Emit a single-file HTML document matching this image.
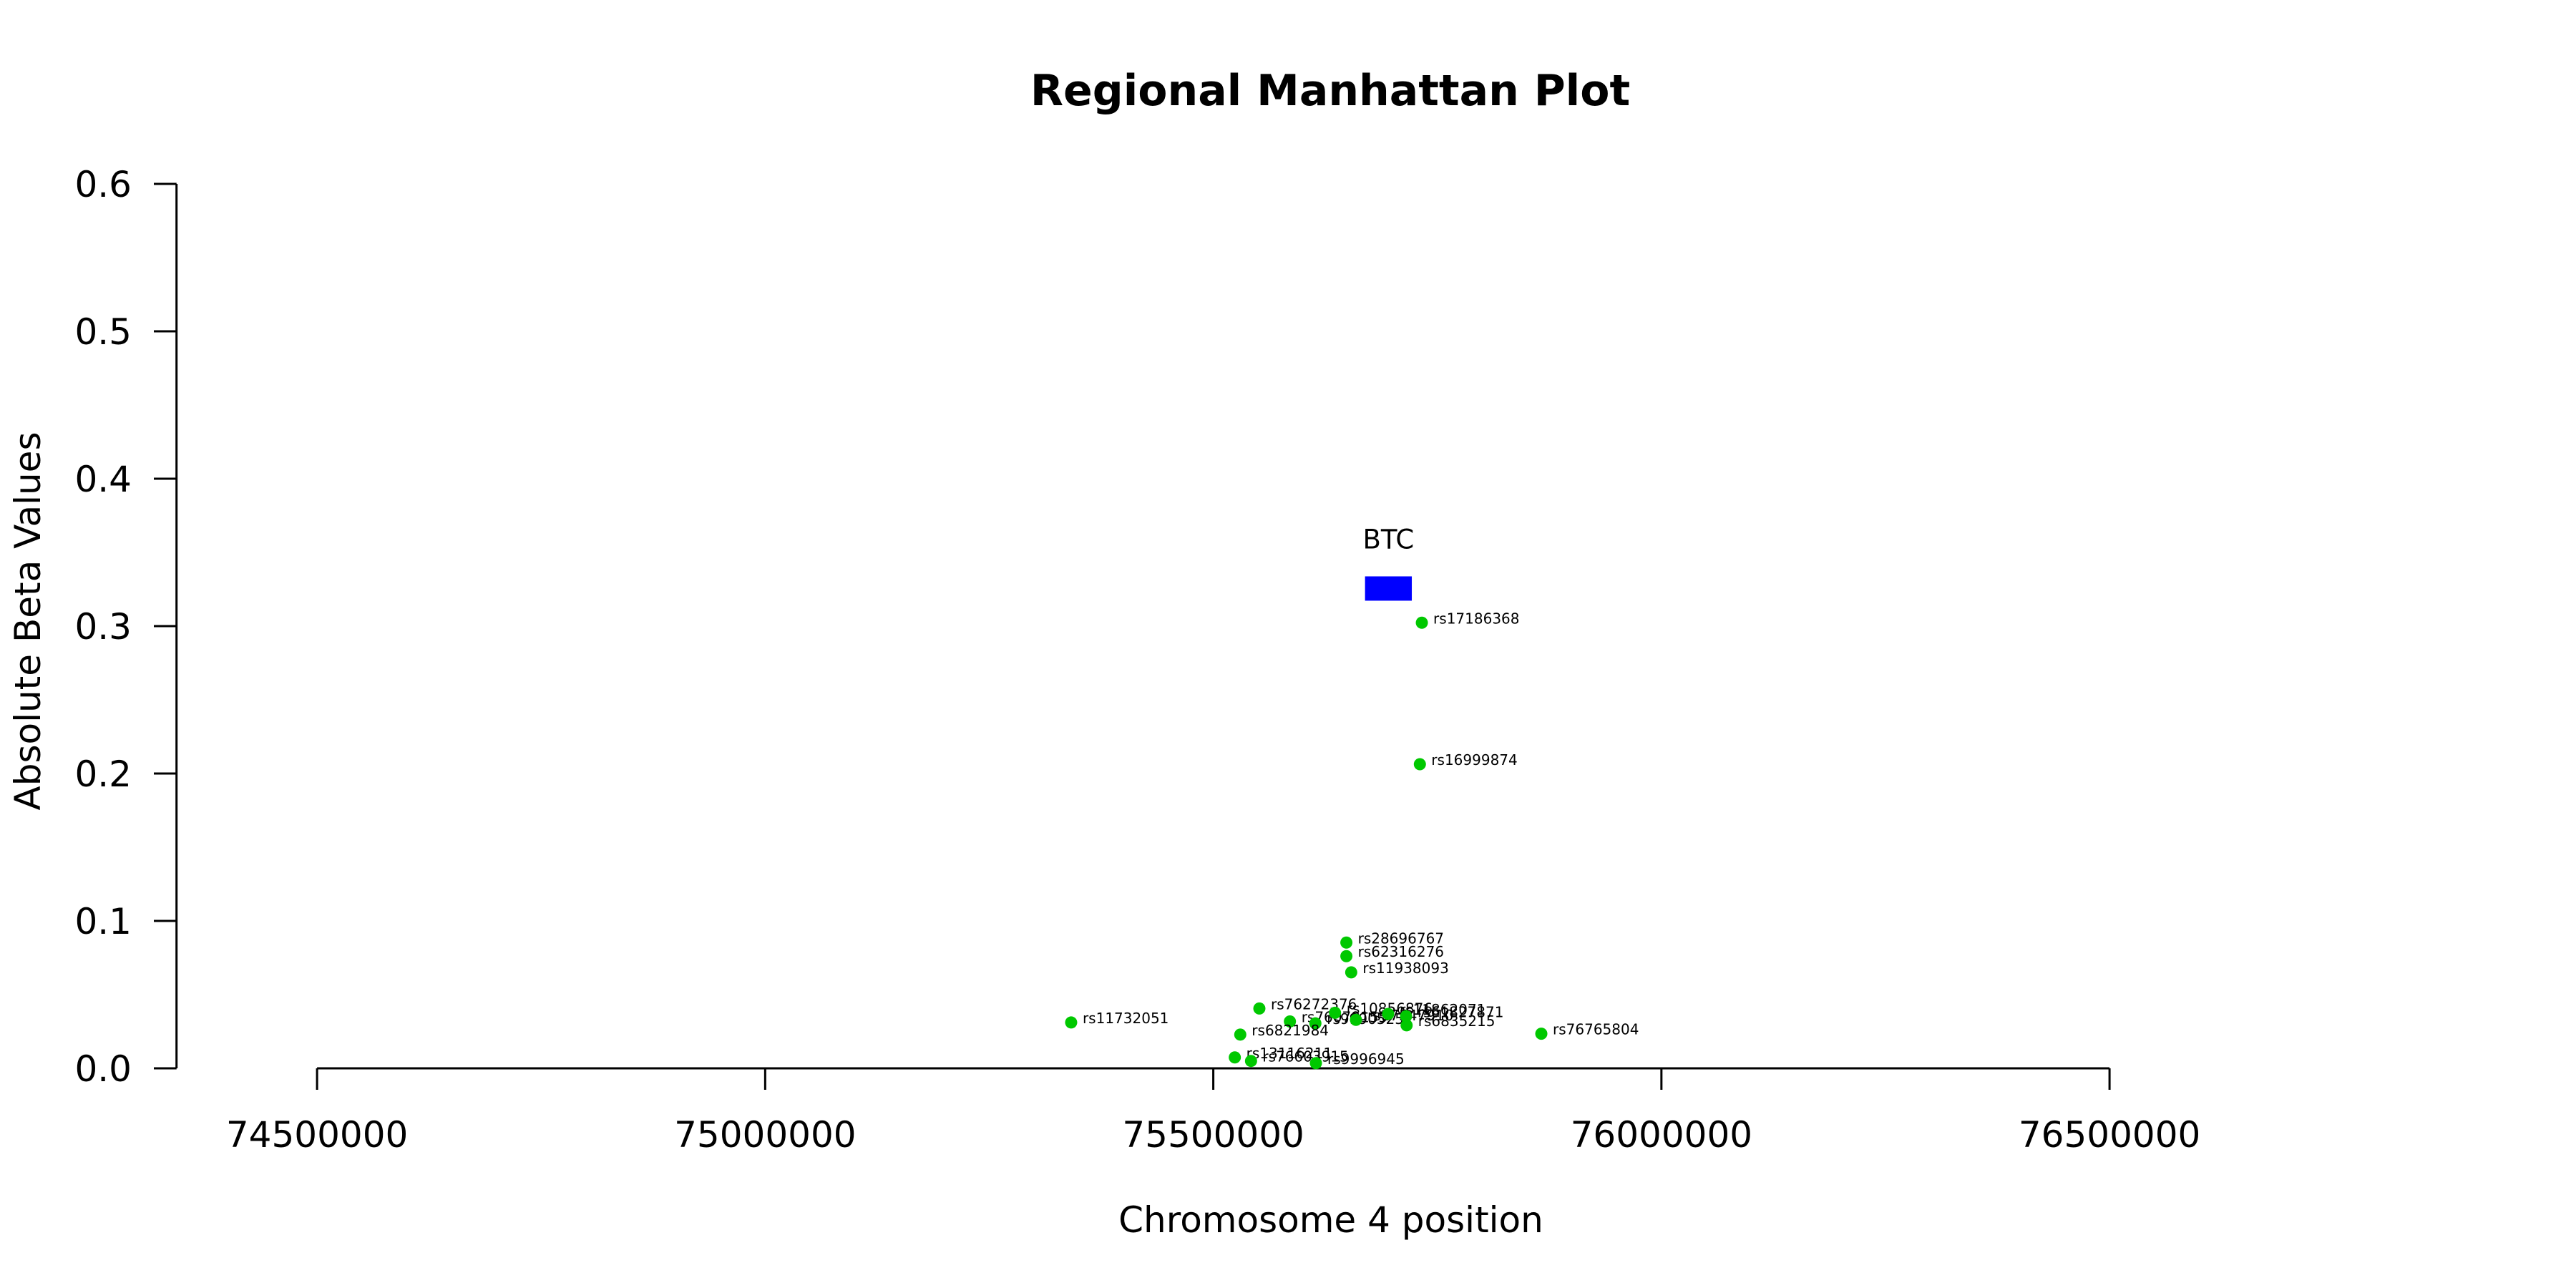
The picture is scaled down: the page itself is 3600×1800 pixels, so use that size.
<!DOCTYPE html>
<html><head><meta charset="utf-8"><style>
html,body{margin:0;padding:0;background:#fff}
svg{display:block;font-family:"DejaVu Sans","Liberation Sans",sans-serif}
</style></head><body>
<svg id="chart" width="3600" height="1800" viewBox="0 0 3600 1800">
<rect width="3600" height="1800" fill="#fff"/>
<text x="1859" y="147" text-anchor="middle" font-size="60" font-weight="bold">Regional Manhattan Plot</text>
<text x="1860" y="1722" text-anchor="middle" font-size="50">Chromosome 4 position</text>
<text transform="translate(56,868) rotate(-90)" text-anchor="middle" font-size="50">Absolute Beta Values</text>
<g id="axes"></g>
<g id="gene"></g>
<g id="points"></g>
</svg>
<script>
const xTicks=[74500000,75000000,75500000,76000000,76500000];
const yTicks=[0,0.1,0.2,0.3,0.4,0.5,0.6];
const snpIds=["rs17186368","rs16999874","rs28696767","rs62316276","rs11938093","rs76272376","rs76079155","rs9990525","rs10856876","rs17547910","rs11862071","rs61827871","rs6835215","rs6821984","rs13116211","rs76603915","rs9996945","rs76765804","rs11732051"];
const snpPos=[75732700,75730500,75648500,75648500,75653900,75551400,75585500,75613900,75635800,75659200,75695100,75715100,75715700,75530100,75524000,75542100,75614500,75866000,75341400];
const snpBeta=[0.3023,0.2063,0.0853,0.0761,0.0651,0.0406,0.0318,0.0305,0.0377,0.0329,0.0369,0.0353,0.0292,0.0229,0.0074,0.0050,0.0035,0.0235,0.0311];
const geneNames=["BTC"];
const geneStart=[75669300];
const geneEnd=[75721500];
const geneY=[0.3255];

const NS="http://www.w3.org/2000/svg";
function X(v){return 443.1+(v-74500000)*(2505/2000000);}
function Y(v){return 1493-v*2060;}
function mk(t,a,p){const e=document.createElementNS(NS,t);for(const k in a)e.setAttribute(k,a[k]);p.appendChild(e);return e;}
const axes=document.getElementById('axes');
let l=mk('line',{x1:X(xTicks[0]),x2:X(xTicks[xTicks.length-1]),y1:Y(0),y2:Y(0),stroke:'#000','stroke-width':3},axes);


xTicks.forEach(v=>{
 const t=mk('line',{x1:X(v),x2:X(v),y1:Y(0),y2:Y(0)+30,stroke:'#000','stroke-width':3},axes);
 
 
 const tx=mk('text',{x:X(v),y:1603,'text-anchor':'middle','font-size':50},axes);
 tx.textContent=String(v);
 
 
});
l=mk('line',{x1:246.7,x2:246.7,y1:Y(yTicks[yTicks.length-1]),y2:Y(0),stroke:'#000','stroke-width':3},axes);


yTicks.forEach(v=>{
 const t=mk('line',{x1:215,x2:246.7,y1:Y(v),y2:Y(v),stroke:'#000','stroke-width':3},axes);
 
 
 const tx=mk('text',{x:184,y:Y(v)+18,'text-anchor':'end','font-size':50},axes);
 tx.textContent=v.toFixed(1);
 
 
});
const gene=document.getElementById('gene');
geneNames.forEach((n,i)=>{
 const x1=X(geneStart[i]),x2=X(geneEnd[i]);
 const r=mk('rect',{x:x1,y:Y(geneY[i])-17,width:x2-x1,height:34,fill:'#0000ff'},gene);
 
 
 const t=mk('text',{x:(x1+x2)/2,y:Y(geneY[i])-56,'text-anchor':'middle','font-size':37},gene);
 t.textContent=n;
 
 
});
const pts=document.getElementById('points');
snpIds.forEach((id,i)=>{
 const cx=X(snpPos[i]),cy=Y(snpBeta[i]);
 const c=mk('circle',{cx:cx,cy:cy,r:8.5,fill:'#00c800'},pts);
 
 
 const t=mk('text',{x:cx+16,y:cy+1,'font-size':20},pts);
 t.textContent=id;
 
 
});
</script>
</body></html>
